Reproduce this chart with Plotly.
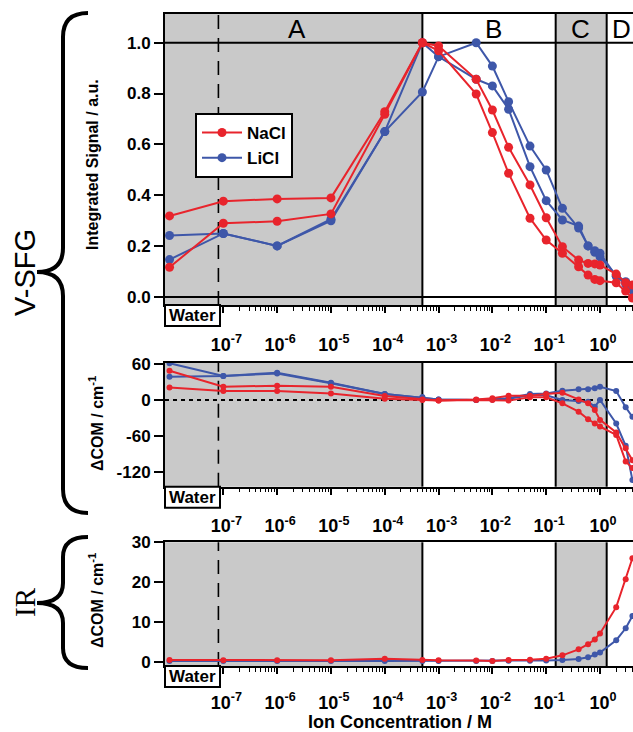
import plotly.graph_objects as go

# ---------------- data ----------------
# ion concentration (M); the first entry (1e-8) is the "Water" reference point
conc_M = [1e-8, 1e-7, 1e-6, 1e-5, 1e-4, 5e-4, 1e-3, 5e-3, 1e-2, 2e-2, 5e-2,
          0.1, 0.2, 0.4, 0.6, 0.8, 1.0, 2.0, 3.0, 4.0]

# V-SFG integrated signal (a.u.)
nacl_signal_1 = [0.318, 0.376, 0.385, 0.389, 0.728, 1.0, 0.987, 0.856, 0.735, 0.588,
                 0.44, 0.311, 0.197, 0.144, 0.131, 0.129, 0.125, 0.089, 0.055, 0.046]
nacl_signal_2 = [0.116, 0.289, 0.297, 0.326, 0.718, 1.0, 0.968, 0.798, 0.646, 0.486,
                 0.309, 0.223, 0.171, 0.118, 0.085, 0.068, 0.063, 0.055, 0.022, -0.005]
licl_signal_1 = [0.241, 0.249, 0.200, 0.299, 0.650, 1.0, 0.945, 0.856, 0.830, 0.738,
                 0.512, 0.378, 0.302, 0.278, 0.200, 0.181, 0.157, 0.085, 0.059, 0.026]
licl_signal_2 = [0.146, 0.249, 0.200, 0.305, 0.650, 0.806, 0.945, 1.0, 0.908, 0.768,
                 0.593, 0.499, 0.348, 0.270, 0.200, 0.175, 0.171, 0.080, 0.050, 0.030]

# V-SFG delta centre of mass (cm^-1)
nacl_com_1 = [48.7, 22, 23.8, 22, 6.6, 1, -1, 1, 3, 7, 7, 10, 12, 1, -5.5, -16.6, -33, -54, -80, -100]
nacl_com_2 = [21, 15, 15, 11, 2.2, 0, -1, 0, 0, -1, 4.4, 4.4, -5.5, -19.4, -32, -38.8, -44, -58, -102, -113]
licl_com_1 = [61, 40, 45.4, 28.8, 10, 4.4, 1, 0, 1, 3, 10, 11, 15.5, 17.7, 18, 19.4, 22, 15, -12, -28]
licl_com_2 = [38.8, 40, 44, 28, 10, 4.4, 1, 0, 1, 2, 8, 8, 0, -1.7, -3, -11, 0, -39, -76, -133]

# IR delta centre of mass (cm^-1)
nacl_ir = [0.43, 0.38, 0.38, 0.38, 0.75, 0.4, 0.35, 0.3, 0.2, 0.43, 0.5, 0.75,
           1.6, 3.1, 4.4, 5.6, 7.1, 13.7, 20.7, 26.0]
licl_ir = [0.2, 0.15, 0.15, 0.15, 0.2, 0.2, 0.2, 0.2, 0.2, 0.25, 0.25, 0.3,
           0.4, 0.7, 1.1, 1.8, 2.3, 5.4, 8.4, 11.5]

# concentration regions A | B | C | D
region_bounds = [5e-4, 0.15, 1.33]
region_labels = ["A", "B", "C", "D"]
axis_break = 8.1e-8

decade_ticks = [1e-7, 1e-6, 1e-5, 1e-4, 1e-3, 1e-2, 1e-1, 1e0]
decade_labels = ["10<sup>-7</sup>", "10<sup>-6</sup>", "10<sup>-5</sup>", "10<sup>-4</sup>",
                 "10<sup>-3</sup>", "10<sup>-2</sup>", "10<sup>-1</sup>", "10<sup>0</sup>"]
sig_ticks = [0.0, 0.2, 0.4, 0.6, 0.8, 1.0]
com_ticks = [-120, -60, 0, 60]
ir_ticks = [0, 10, 20, 30]

# ---------------- layout helpers ----------------
W, H = 633, 732
ML, MR, MT, MB = 165, 0, 14, 66
PW, PH = W - ML - MR, H - MT - MB


def px(x):
    return (x - ML) / PW


def py(y):
    return (H - MB - y) / PH


RED = "#e8242c"
BLUE = "#3e57a9"
GRAY = "#c9c9c9"
FONT = "Liberation Sans, Arial, Helvetica, sans-serif"
X_LOG_RANGE = [-8.084, 0.613]
x_left = 10 ** X_LOG_RANGE[0]
x_right = 10 ** X_LOG_RANGE[1]

minor_ticks = [k * 10 ** e for e in range(-7, 1) for k in range(2, 10) if k * 10 ** e <= x_right]

fig = go.Figure()


def add_series(xa, ya, y, color, name, size, legend):
    fig.add_trace(go.Scatter(
        x=conc_M, y=y, xaxis=xa, yaxis=ya, mode="lines+markers", name=name,
        line=dict(color=color, width=2), marker=dict(color=color, size=size),
        showlegend=legend, legendgroup=name, legendrank=1 if name == "NaCl" else 2,
        cliponaxis=True))


# top panel
add_series("x", "y", licl_signal_1, BLUE, "LiCl", 9, True)
add_series("x", "y", licl_signal_2, BLUE, "LiCl", 9, False)
add_series("x", "y", nacl_signal_1, RED, "NaCl", 9, True)
add_series("x", "y", nacl_signal_2, RED, "NaCl", 9, False)
# middle panel
add_series("x2", "y2", licl_com_1, BLUE, "LiCl", 6, False)
add_series("x2", "y2", licl_com_2, BLUE, "LiCl", 6, False)
add_series("x2", "y2", nacl_com_1, RED, "NaCl", 6, False)
add_series("x2", "y2", nacl_com_2, RED, "NaCl", 6, False)
# bottom panel
add_series("x3", "y3", licl_ir, BLUE, "LiCl", 6, False)
add_series("x3", "y3", nacl_ir, RED, "NaCl", 6, False)

tickfont = dict(family=FONT, size=17, color="black", weight="bold")
xcommon = dict(type="log", range=X_LOG_RANGE, domain=[0, 1], showline=True, linecolor="black",
               linewidth=2, mirror=True, ticks="outside", ticklen=6, tickwidth=1.5,
               tickcolor="black", tickmode="array", tickvals=decade_ticks, ticktext=decade_labels,
               tickfont=dict(family=FONT, size=18, color="black", weight="bold"),
               ticklabelstandoff=16, ticklabelshift=3,
               minor=dict(tickmode="array", tickvals=minor_ticks, ticks="outside", ticklen=3.5,
                          tickwidth=1.2, tickcolor="black", showgrid=False),
               showgrid=False, zeroline=False)
ycommon = dict(showline=True, linecolor="black", linewidth=2, ticks="outside", ticklen=9,
               tickwidth=1.5, tickcolor="black", tickfont=tickfont, showgrid=False,
               mirror=False, tickmode="array")

panels = {
    1: dict(top=14, bottom=305),
    2: dict(top=362.7, bottom=486.7),
    3: dict(top=542.3, bottom=666),
}

fig.update_layout(
    width=W, height=H, margin=dict(l=ML, r=MR, t=MT, b=MB),
    plot_bgcolor="white", paper_bgcolor="white",
    xaxis=dict(xcommon, anchor="y"),
    xaxis2=dict(xcommon, anchor="y2"),
    xaxis3=dict(xcommon, anchor="y3", ticklabelstandoff=13),
    yaxis=dict(ycommon, anchor="x", domain=[py(305), 1], range=[-0.0327, 1.113],
               tickvals=sig_ticks, ticktext=[f"{v:.1f}" for v in sig_ticks],
               zeroline=True, zerolinecolor="black", zerolinewidth=2),
    yaxis2=dict(ycommon, anchor="x2", domain=[py(486.7), py(362.7)], range=[-144, 62],
                tickvals=com_ticks, ticktext=[str(v) for v in com_ticks], zeroline=False),
    yaxis3=dict(ycommon, anchor="x3", domain=[0, py(542.3)], range=[-1.08, 30.0],
                tickvals=ir_ticks, ticktext=[str(v) for v in ir_ticks], zeroline=False),
    legend=dict(x=px(195), y=py(113), xanchor="left", yanchor="top", bgcolor="white",
                bordercolor="black", borderwidth=2, itemwidth=40,
                font=dict(family=FONT, size=17, color="black", weight="bold"),
                tracegroupgap=0),
    showlegend=True,
)

shapes = []
annotations = []
for i, (xa, ya) in enumerate([("x", "y"), ("x2", "y2"), ("x3", "y3")], start=1):
    yd = ya + " domain"
    # gray regions A and C
    shapes.append(dict(type="rect", xref=xa, yref=yd, x0=x_left, x1=region_bounds[0], y0=0, y1=1,
                       fillcolor=GRAY, line=dict(width=0), layer="below"))
    shapes.append(dict(type="rect", xref=xa, yref=yd, x0=region_bounds[1], x1=region_bounds[2],
                       y0=0, y1=1, fillcolor=GRAY, line=dict(width=0), layer="below"))
    for b in region_bounds:
        shapes.append(dict(type="line", xref=xa, yref=yd, x0=b, x1=b, y0=0, y1=1,
                           line=dict(color="black", width=2), layer="below"))
    shapes.append(dict(type="line", xref=xa, yref=yd, x0=axis_break, x1=axis_break, y0=0, y1=1,
                       line=dict(color="black", width=1.6, dash="14px,9px"), layer="below"))
    # Water box
    b_px = panels[i]["bottom"]
    shapes.append(dict(type="rect", xref="paper", yref="paper", x0=px(165), x1=px(220),
                       y0=py(b_px + 21), y1=py(b_px), fillcolor="white",
                       line=dict(color="black", width=2), layer="above"))
    annotations.append(dict(xref="paper", yref="paper", x=px(192.5), y=py(b_px + 10.5),
                            text="Water", showarrow=False, xanchor="center", yanchor="middle",
                            font=dict(family=FONT, size=17, color="black", weight="bold")))

# header line (y = 1.0) and dotted zero line
shapes.append(dict(type="line", xref="x domain", yref="y", x0=0, x1=1, y0=1.0, y1=1.0,
                   line=dict(color="black", width=2), layer="below"))
shapes.append(dict(type="line", xref="x2 domain", yref="y2", x0=0, x1=1, y0=0, y1=0,
                   line=dict(color="black", width=2, dash="4px,4px"), layer="below"))

# region letters
letter_px = [296.7, 493, 580.7, 621.5]
for lab, lx in zip(region_labels, letter_px):
    annotations.append(dict(xref="paper", yref="paper", x=px(lx), y=py(28.5), text=lab,
                            showarrow=False, xanchor="center", yanchor="middle",
                            font=dict(family=FONT, size=26, color="black")))


def side_label(text, x, y, font):
    annotations.append(dict(xref="paper", yref="paper", x=px(x), y=py(y), textangle=-90,
                            text=text, showarrow=False, xanchor="center", yanchor="middle",
                            font=font))


# y-axis titles
ytitle_font = dict(family=FONT, size=16, color="black", weight="bold")
side_label("Integrated Signal / a.u.", 92, 165, ytitle_font)
side_label("ΔCOM / cm<sup>-1</sup>", 96, 424, ytitle_font)
side_label("ΔCOM / cm<sup>-1</sup>", 96, 601, ytitle_font)
# group labels
side_label("V-SFG", 25, 273, dict(family=FONT, size=29, color="black"))
side_label("IR", 25, 602, dict(family="Liberation Serif, Times New Roman, serif", size=29, color="black"))
# x-axis title
annotations.append(dict(xref="paper", yref="paper", x=px(400), y=py(721.5),
                        text="Ion Concentration / M", showarrow=False, xanchor="center",
                        yanchor="middle", font=dict(family=FONT, size=18, color="black", weight="bold")))


# braces
def brace(top, mid, bottom, xv=63, xt=88, xm=37, r=24):
    pts = [
        ("M", xt, top), ("Q", xv, top, xv, top + r), ("L", xv, mid - r),
        ("Q", xv, mid, xm, mid), ("Q", xv, mid, xv, mid + r), ("L", xv, bottom - r),
        ("Q", xv, bottom, xt, bottom),
    ]
    out = []
    for p in pts:
        cmd = p[0]
        coords = p[1:]
        s = cmd
        for j in range(0, len(coords), 2):
            s += f" {px(coords[j]):.5f},{py(coords[j + 1]):.5f}"
        out.append(s)
    return " ".join(out)


shapes.append(dict(type="path", xref="paper", yref="paper", path=brace(13, 272, 513),
                   line=dict(color="black", width=4), layer="above"))
shapes.append(dict(type="path", xref="paper", yref="paper", path=brace(537, 603, 668, r=20),
                   line=dict(color="black", width=4), layer="above"))

fig.update_layout(shapes=shapes, annotations=annotations)
fig.write_html("out.html", config={"displayModeBar": False},
               post_script="document.body.style.margin='0';document.body.style.overflow='hidden';")
